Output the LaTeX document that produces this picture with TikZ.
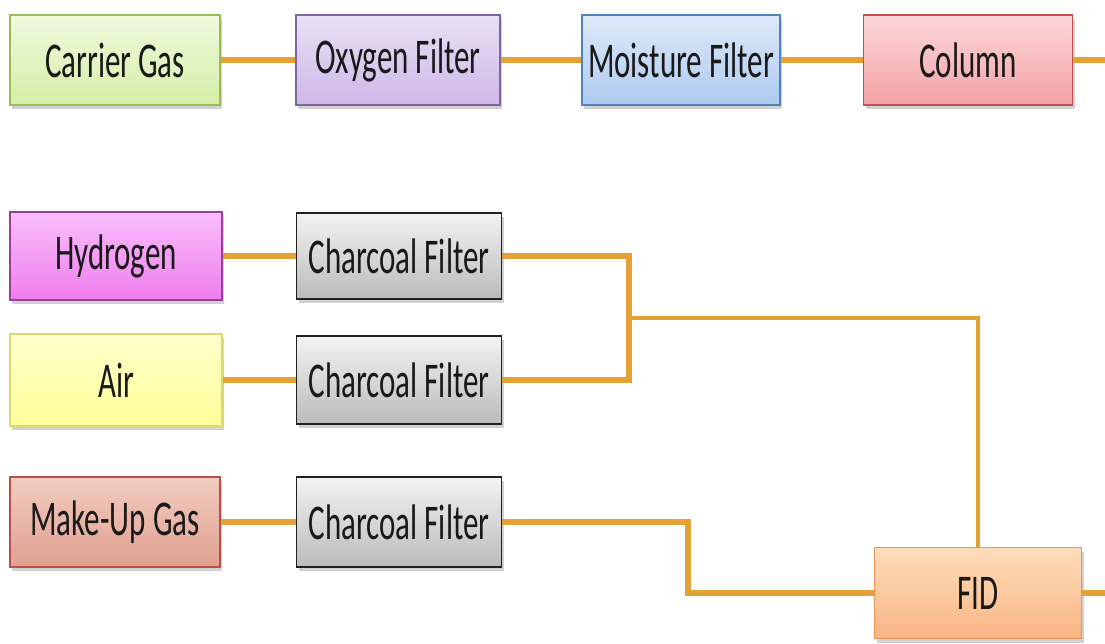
\documentclass[tikz,border=0pt]{standalone}
\usepackage{fontspec}
\setmainfont[FakeStretch=0.62]{Carlito}
\usetikzlibrary{shadows}
\definecolor{pipe}{HTML}{E4A236}
\definecolor{cgT}{HTML}{F0FADF}\definecolor{cgB}{HTML}{D4EEA6}\definecolor{cgD}{HTML}{9BBB59}
\definecolor{oxT}{HTML}{EAE0F6}\definecolor{oxB}{HTML}{CDB8E8}\definecolor{oxD}{HTML}{8064A2}
\definecolor{moT}{HTML}{DEE9F9}\definecolor{moB}{HTML}{ADCAF0}\definecolor{moD}{HTML}{4F81BD}
\definecolor{coT}{HTML}{FBD8D8}\definecolor{coB}{HTML}{F4A2A4}\definecolor{coD}{HTML}{C0504D}
\definecolor{hyT}{HTML}{FABEFA}\definecolor{hyB}{HTML}{EE7EEE}\definecolor{hyD}{HTML}{9A3C9A}
\definecolor{aiT}{HTML}{FFFFCC}\definecolor{aiB}{HTML}{FFFF99}\definecolor{aiD}{HTML}{DADA70}
\definecolor{muT}{HTML}{F2CCC0}\definecolor{muB}{HTML}{E0A090}\definecolor{muD}{HTML}{B85048}
\definecolor{cfT}{HTML}{F3F3F3}\definecolor{cfB}{HTML}{BBBBBB}\definecolor{cfD}{HTML}{202020}
\definecolor{fiT}{HTML}{FDDCBA}\definecolor{fiB}{HTML}{F9B684}\definecolor{fiD}{HTML}{E8955A}
\tikzset{
  box/.style={draw=#1D, line width=1.4pt, top color=#1T, bottom color=#1B,
    minimum height=90pt, inner sep=0pt, text=black!90,
    font=\fontsize{50}{50}\selectfont,
    drop shadow={shadow xshift=2pt, shadow yshift=-4pt, fill=black!40, opacity=0.45}},
  pipeline/.style={draw=pipe, line width=6pt},
  thinpipe/.style={draw=pipe, line width=4pt},
}
\begin{document}
\begin{tikzpicture}[x=1pt,y=-1pt]
\useasboundingbox (0,0) rectangle (1105,644);
% top row
\node[box=cg, minimum width=210pt] (cg) at (115,60) {Carrier Gas};
\node[box=ox, minimum width=204pt] (ox) at (398,60) {Oxygen Filter};
\node[box=mo, minimum width=198pt] (mo) at (681,60) {Moisture Filter};
\node[box=co, minimum width=209pt] (co) at (968,60) {Column};
\coordinate (colout) at (1105,60);
% sources
\node[box=hy, minimum width=212pt, minimum height=88pt] (hy) at (116,256) {Hydrogen};
\node[box=ai, minimum width=212pt, minimum height=92pt] (ai) at (116,380) {Air};
\node[box=mu, minimum width=210pt] (mu) at (115,522) {Make-Up Gas};
% charcoal filters
\node[box=cf, minimum width=205pt, minimum height=86pt] (cf1) at (399,256) {Charcoal Filter};
\node[box=cf, minimum width=205pt, minimum height=88pt] (cf2) at (399,380) {Charcoal Filter};
\node[box=cf, minimum width=205pt] (cf3) at (399,522) {Charcoal Filter};
% FID
\node[box=fi, minimum width=207pt, minimum height=91pt] (fid) at (978,593) {FID};
\coordinate (fidout) at (1105,593);
\coordinate (j) at (629,318);
% pipes
\draw[pipeline] (cg) -- (ox);
\draw[pipeline] (ox) -- (mo);
\draw[pipeline] (mo) -- (co);
\draw[pipeline] (co) -- (colout);
\draw[pipeline] (hy) -- (cf1);
\draw[pipeline] (ai) -- (cf2);
\draw[pipeline] (mu) -- (cf3);
\draw[pipeline] (cf1.east) -| (j) |- (cf2.east);
\draw[thinpipe] (j) -| (fid.north);
\draw[pipeline] (cf3.east) -| (688,593) -- (fid.west);
\draw[pipeline] (fid) -- (fidout);
\end{tikzpicture}
\end{document}
